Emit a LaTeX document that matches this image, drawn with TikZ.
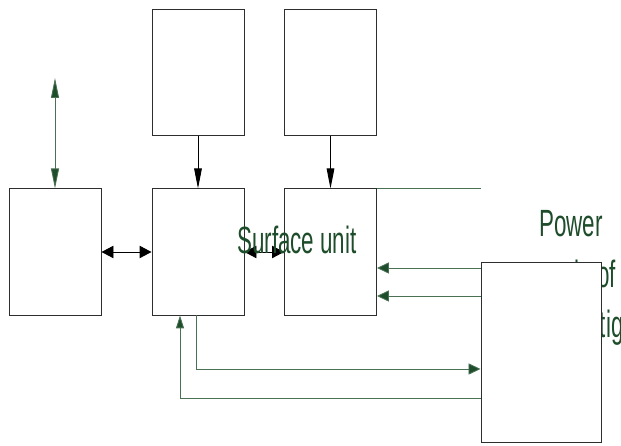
\documentclass[tikz,border=0pt]{standalone}
\usepackage{fontspec}
\setmainfont{Liberation Sans}
\usepackage{tikz}
\usetikzlibrary{arrows.meta}
\definecolor{wiregreen}{HTML}{1E4D2B}
\definecolor{boxline}{HTML}{2E2E2E}

\begin{document}
\begin{tikzpicture}[
  unitbox/.style={draw=boxline, line width=0.7pt, minimum width=2.3cm, minimum height=3.15cm, inner sep=0pt},
  blkwire/.style={draw=black, line width=0.7pt},
  grnwire/.style={draw=wiregreen!80, line width=0.6pt},
  longtip/.style={-{Triangle[length=5mm,width=1.9mm]}},
  longboth/.style={{Triangle[length=5mm,width=2mm,fill=wiregreen]}-{Triangle[length=5mm,width=2mm,fill=wiregreen]}},
  shorttip/.style={-{Triangle[length=3mm,width=2.8mm,fill=wiregreen]}},
  shortboth/.style={{Triangle[length=3mm,width=3.1mm]}-{Triangle[length=3mm,width=3.1mm]}},
  labeltext/.style={text=wiregreen, font=\fontsize{27}{36}\selectfont, xscale=0.59, inner sep=0pt}
]
  \useasboundingbox (0,0) rectangle (15.525,11.15);
  % blocks
  \node[unitbox] (left) at (1.375,4.85) {};
  \node[unitbox] (topa) at (4.95,9.3375) {};
  \node[unitbox] (topb) at (8.2625,9.3375) {};
  \node[unitbox] (mid) at (4.95,4.85) {};
  \node[unitbox] (surf) at (8.2625,4.85) {};
  \coordinate (leftfree) at (1.375,9.2);
  % power supply text sits behind its white block
  \node[labeltext, align=center, anchor=base] (powtext) at (14.275,2.7)
    {Power\\supply of\\\hspace*{3.3cm}investigation};
  \node[unitbox, fill=white, minimum width=3cm, minimum height=4.5cm] (power) at (13.525,2.35) {};
  % connectors
  \draw[grnwire, longboth] (left.north) -- (leftfree);
  \draw[blkwire, shortboth] (left.east) -- (mid.west);
  \draw[blkwire, longtip] (topa.south) -- (mid.north);
  \draw[blkwire, longtip] (topb.south) -- (surf.north);
  \draw[blkwire, shortboth] (mid.east) -- (surf.west);
  \draw[grnwire] (surf.north east) -- (surf.north east -| power.west);
  \draw[grnwire, shorttip] ([yshift=-0.4cm]surf.east -| power.west) -- ([yshift=-0.4cm]surf.east);
  \draw[grnwire, shorttip] ([yshift=-1.1cm]surf.east -| power.west) -- ([yshift=-1.1cm]surf.east);
  \draw[grnwire, shorttip] ([xshift=-0.05cm]mid.south) |- ([yshift=-0.425cm]power.west);
  \draw[grnwire, -{Triangle[length=3.2mm,width=2mm,fill=wiregreen]}] ([yshift=-1.15cm]power.west) -| ([xshift=-0.45cm]mid.south);
  % label
  \node[labeltext, anchor=base west] (surftext) at (5.925,4.8) {Surface unit};
\end{tikzpicture}
\end{document}
